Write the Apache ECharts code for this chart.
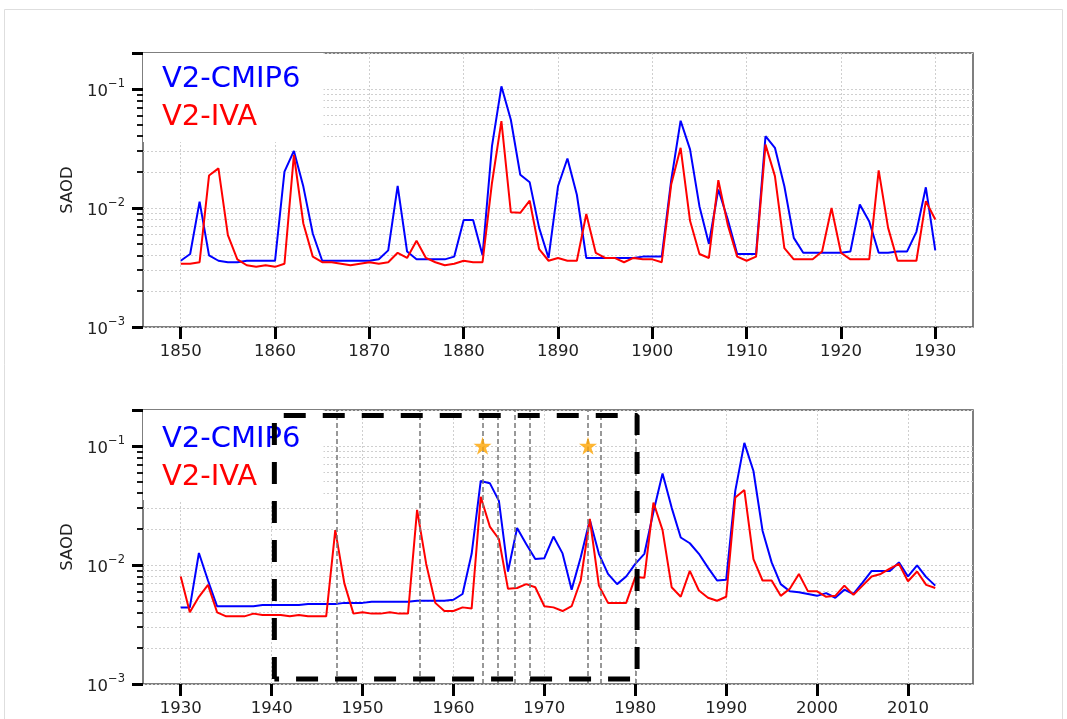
<!DOCTYPE html>
<html>
<head>
<meta charset="utf-8">
<script src="https://cdn.jsdelivr.net/npm/echarts@6/dist/echarts.min.js"></script>
<style>
html,body{margin:0;padding:0;background:#fff;}
#chart{width:1067px;height:719px;}
</style>
</head>
<body>
<div id="chart"></div>
<script>
// ---------- DATA ----------
const topStartYear = 1850;
const topBlue = [
  0.0036, 0.0041, 0.0113, 0.0040, 0.0036, 0.0035, 0.0035, 0.0036, 0.0036, 0.0036,
  0.0036, 0.0202, 0.0301, 0.0151, 0.0061, 0.0036, 0.0036, 0.0036, 0.0036, 0.0036,
  0.0036, 0.0037, 0.0044, 0.0153, 0.0043, 0.0037, 0.0037, 0.0037, 0.0037, 0.0039,
  0.0079, 0.0079, 0.0040, 0.033, 0.105, 0.055, 0.019, 0.0164, 0.0068, 0.0038,
  0.0152, 0.026, 0.0129, 0.0038, 0.0038, 0.0038, 0.0038, 0.0038, 0.0038, 0.0039,
  0.0039, 0.0039, 0.017, 0.054, 0.031, 0.0103, 0.0050, 0.0143, 0.0080, 0.0041,
  0.0041, 0.0041, 0.040, 0.032, 0.0152, 0.0056, 0.0042, 0.0042, 0.0042, 0.0042,
  0.0042, 0.0043, 0.0107, 0.0077, 0.0042, 0.0042, 0.0043, 0.0043, 0.0063, 0.0149,
  0.0044
];
const topRed = [
  0.0034, 0.0034, 0.0035, 0.0187, 0.0215, 0.0059, 0.0037, 0.0033, 0.0032, 0.0033,
  0.0032, 0.0034, 0.0279, 0.0074, 0.0039, 0.0035, 0.0035, 0.0034, 0.0033, 0.0034,
  0.0035, 0.0034, 0.0035, 0.0042, 0.0038, 0.0053, 0.0038, 0.0035, 0.0033, 0.0034,
  0.0036, 0.0035, 0.0035, 0.0162, 0.0535, 0.0092, 0.0091, 0.0115, 0.0045, 0.0036,
  0.0038, 0.0036, 0.0036, 0.0089, 0.0042, 0.0038, 0.0038, 0.0035, 0.0038, 0.0037,
  0.0037, 0.0035, 0.0157, 0.0320, 0.0078, 0.0041, 0.0038, 0.0171, 0.0072, 0.0039,
  0.0036, 0.0039, 0.034, 0.0185, 0.0046, 0.0037, 0.0037, 0.0037, 0.0043, 0.0100,
  0.0042, 0.0037, 0.0037, 0.0037, 0.0207, 0.0068, 0.0036, 0.0036, 0.0036, 0.0114,
  0.0080
];
const bottomStartYear = 1930;
const bottomBlue = [
  0.0044, 0.0044, 0.0126, 0.0074, 0.0045, 0.0045, 0.0045, 0.0045, 0.0045, 0.0046,
  0.0046, 0.0046, 0.0046, 0.0046, 0.0047, 0.0047, 0.0047, 0.0047, 0.0048, 0.0048,
  0.0048, 0.0049, 0.0049, 0.0049, 0.0049, 0.0049, 0.0050, 0.0050, 0.0050, 0.0050,
  0.0051, 0.0057, 0.0124, 0.0507, 0.0486, 0.0345, 0.0088, 0.0204, 0.0150, 0.0112,
  0.0114, 0.0173, 0.0125, 0.0062, 0.0116, 0.0238, 0.0124, 0.0084, 0.0069, 0.0080,
  0.0102, 0.0124, 0.028, 0.0585, 0.0303, 0.0170, 0.0152, 0.0124, 0.0095, 0.0074,
  0.0075, 0.0419, 0.106, 0.0615, 0.0194, 0.0105, 0.0069, 0.0060, 0.0059, 0.0057,
  0.0055, 0.0058, 0.0053, 0.0062, 0.0057, 0.0071, 0.0089, 0.0089, 0.0089, 0.0105,
  0.0080, 0.0099, 0.0079, 0.0067
];
const bottomRed = [
  0.0080, 0.0040, 0.0054, 0.0068, 0.0040, 0.0037, 0.0037, 0.0037, 0.0039, 0.0038,
  0.0038, 0.0038, 0.0037, 0.0038, 0.0037, 0.0037, 0.0037, 0.0196, 0.0070, 0.0039,
  0.0040, 0.0039, 0.0039, 0.0040, 0.0039, 0.0039, 0.029, 0.0102, 0.0048, 0.0041,
  0.0041, 0.0044, 0.0043, 0.0373, 0.0210, 0.0165, 0.0063, 0.0064, 0.0069, 0.0065,
  0.0045, 0.0044, 0.0041, 0.0045, 0.0074, 0.0243, 0.0067, 0.0048, 0.0048, 0.0048,
  0.0079, 0.0078, 0.0334, 0.0196, 0.0065, 0.0054, 0.0089, 0.0061, 0.0053, 0.0050,
  0.0054, 0.0368, 0.0425, 0.0112, 0.0074, 0.0074, 0.0055, 0.0063, 0.0084, 0.0060,
  0.0060, 0.0054, 0.0055, 0.0067, 0.0056, 0.0067, 0.0080, 0.0084, 0.0093, 0.0102,
  0.0073, 0.0088, 0.0068, 0.0064
];
const topXTicks = [1850, 1860, 1870, 1880, 1890, 1900, 1910, 1920, 1930];
const bottomXTicks = [1930, 1940, 1950, 1960, 1970, 1980, 1990, 2000, 2010];
const yMajorTicks = [0.001, 0.01, 0.1, 0.2];
const yLabelTicks = [0.001, 0.01, 0.1];
const yMinorTicks = [0.002, 0.003, 0.004, 0.005, 0.006, 0.007, 0.008, 0.009,
                     0.02, 0.03, 0.04, 0.05, 0.06, 0.07, 0.08, 0.09];
const eruptionYears = [1947.2, 1956.3, 1963.2, 1964.9, 1966.7, 1968.4, 1974.8, 1976.2, 1980.0];
const starYears = [1963.2, 1974.8];
const starValue = 0.1;
const boxYears = [1940.3, 1980.2];
const boxValues = [0.0011, 0.18];
const seriesNames = ['V2-CMIP6', 'V2-IVA'];

// ---------- BUILD ----------
function pairs(start, vals) { return vals.map((v, i) => [start + i, v]); }
const FONT = 'DejaVu Sans';
const BLUE = '#0000ff', RED = '#ff0000';
const gridLine = { show: true, lineStyle: { color: '#cfcfcf', type: [2, 2], width: 1 } };

function xAxis(gridIndex, min, max, ticks) {
  return {
    type: 'value', gridIndex, min, max,
    axisLine: { show: false },
    axisTick: { show: true, length: 12, lineStyle: { color: '#000', width: 3 }, customValues: ticks },
    axisLabel: { show: true, customValues: ticks, margin: 16, color: '#222',
      fontFamily: FONT, fontSize: 16.5, formatter: v => String(Math.round(v)) },
    splitLine: gridLine
  };
}
function yMajor(gridIndex) {
  return {
    type: 'log', logBase: 10, gridIndex, min: 0.001, max: 0.2, position: 'left',
    name: 'SAOD', nameLocation: 'middle', nameGap: 60,
    nameTextStyle: { fontFamily: FONT, fontSize: 16.5, color: '#222' },
    axisLine: { show: false },
    axisTick: { show: true, length: 11, lineStyle: { color: '#000', width: 3 }, customValues: yMajorTicks },
    axisLabel: { show: true, customValues: yLabelTicks, margin: 18,
      formatter: v => '{b|10}{s|\u2212' + Math.round(-Math.log10(v)) + '}',
      rich: {
        b: { fontFamily: FONT, fontSize: 16.5, color: '#222', lineHeight: 22, verticalAlign: 'bottom' },
        s: { fontFamily: FONT, fontSize: 11.5, color: '#222', lineHeight: 22, verticalAlign: 'top' }
      } },
    splitLine: gridLine
  };
}
function yMinor(gridIndex) {
  return {
    type: 'log', logBase: 10, gridIndex, min: 0.001, max: 0.2, position: 'left',
    axisLine: { show: false },
    axisTick: { show: true, length: 6, lineStyle: { color: '#000', width: 1.8 }, customValues: yMinorTicks },
    axisLabel: { show: false },
    splitLine: gridLine
  };
}
function legend(top, pad) {
  return {
    left: 143, top, orient: 'vertical', backgroundColor: '#fff', borderWidth: 0,
    padding: pad, itemGap: 9, itemWidth: 0, itemHeight: 0, icon: 'rect', z: 4,
    textStyle: { fontFamily: FONT, fontSize: 29 },
    data: [
      { name: seriesNames[0], textStyle: { color: BLUE } },
      { name: seriesNames[1], textStyle: { color: RED } }
    ]
  };
}
function lineSeries(name, color, xi, yi, data) {
  return { name, type: 'line', xAxisIndex: xi, yAxisIndex: yi, data, symbol: 'none',
    lineStyle: { color, width: 2 }, itemStyle: { color }, z: 2, silent: true };
}

const boxData = [
  [boxYears[0], boxValues[0]], [boxYears[0], boxValues[1]],
  [boxYears[1], boxValues[1]], [boxYears[1], boxValues[0]],
  [boxYears[0], boxValues[0]]
];

const option = {
  animation: false,
  backgroundColor: '#fff',
  graphic: [{ type: 'rect', shape: { x: 4.5, y: 9.5, width: 1058, height: 720 },
    style: { fill: 'none', stroke: '#dedede', lineWidth: 1 }, silent: true }],
  grid: [
    { left: 143, top: 53, width: 830, height: 274, show: true, borderColor: '#555', borderWidth: 1.5, backgroundColor: 'transparent' },
    { left: 143, top: 410, width: 830, height: 274, show: true, borderColor: '#555', borderWidth: 1.5, backgroundColor: 'transparent' }
  ],
  legend: [legend(53, [12, 23, 10, 14]), legend(410, [15, 23, 8, 14])],
  xAxis: [xAxis(0, 1846, 1934, topXTicks), xAxis(1, 1925.85, 2017.15, bottomXTicks)],
  yAxis: [yMajor(0), yMinor(0), yMajor(1), yMinor(1)],
  series: [
    lineSeries(seriesNames[0], BLUE, 0, 0, pairs(topStartYear, topBlue)),
    lineSeries(seriesNames[1], RED, 0, 0, pairs(topStartYear, topRed)),
    lineSeries(seriesNames[0], BLUE, 1, 2, pairs(bottomStartYear, bottomBlue)),
    lineSeries(seriesNames[1], RED, 1, 2, pairs(bottomStartYear, bottomRed)),
    { name: 'eruptions', type: 'line', xAxisIndex: 1, yAxisIndex: 2, data: [], z: 3, silent: true,
      markLine: { symbol: ['none', 'none'], silent: true, label: { show: false },
        lineStyle: { color: '#777', type: [5, 3], width: 1.5 },
        data: eruptionYears.map(y => ({ xAxis: y })) } },
    { name: 'box', type: 'line', xAxisIndex: 1, yAxisIndex: 2, data: boxData, symbol: 'none', z: 10, silent: true,
      lineStyle: { color: '#000', width: 5, type: [22, 17] } },
    { name: 'stars', type: 'scatter', xAxisIndex: 1, yAxisIndex: 2, z: 11, silent: true,
      data: starYears.map(y => [y, starValue]),
      symbol: 'path://M50,0 L61.2,34.5 L97.6,34.5 L68.2,55.9 L79.4,90.5 L50,69.1 L20.6,90.5 L31.8,55.9 L2.4,34.5 L38.8,34.5 Z',
      symbolSize: 18, itemStyle: { color: '#FFA500' } }
  ]
};

const chart = echarts.init(document.getElementById('chart'), null, { renderer: 'canvas' });
chart.setOption(option);
</script>
</body>
</html>
